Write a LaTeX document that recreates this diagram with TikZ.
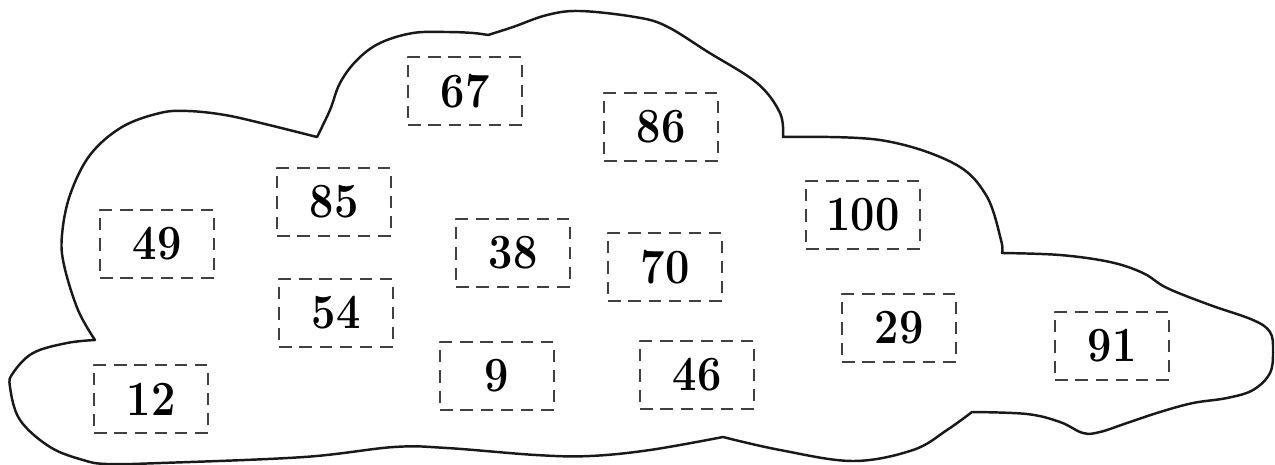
\documentclass[tikz,border=0pt]{standalone}
\usetikzlibrary{positioning}
\begin{document}
\begin{tikzpicture}[x=0.02cm,y=-0.02cm,line join=round,line cap=round,
	cloudline/.style={line width=1.4pt,black!90},
	numbox/.style={draw=black!75,line width=1pt,dash pattern=on 7pt off 4.5pt,line cap=butt,
		minimum width=2.27cm,minimum height=1.36cm,inner sep=0pt,
		font=\fontsize{28}{32}\selectfont\bfseries}]
	\useasboundingbox (0,0) rectangle (1275,464);
	% cloud outline, lobe by lobe
	\draw[cloudline] plot[smooth,tension=.6] coordinates {(95,340) (78,310) (64,265) (62,235) (70,195) (90,155) (122,127) (160,113) (188,111) (225,115) (265,124) (317,137)}
	-- plot[smooth,tension=.6] coordinates {(317,137) (330,110) (340,83) (357,60) (380,43) (413,33) (447,32) (473,33) (488,35)}
	-- plot[smooth,tension=.6] coordinates {(488,35) (513,27) (547,15) (580,11) (635,17) (666,26) (708,52) (757,83) (780,113) (783,137)}
	-- plot[smooth,tension=.6] coordinates {(783,137) (880,140) (953,163) (986,195) (1001,240) (1002,253)}
	-- plot[smooth,tension=.6] coordinates {(1002,253) (1060,255) (1110,262) (1143,273) (1167,288) (1210,305) (1253,320) (1270,332) (1273,350) (1270,373) (1253,390) (1227,398) (1193,403) (1160,412) (1127,423) (1100,432) (1083,433) (1060,422) (1027,414) (972,412)}
	-- plot[smooth,tension=.6] coordinates {(972,412) (947,430) (913,450) (853,461) (780,450) (723,437)}
	-- plot[smooth,tension=.6] coordinates {(723,437) (650,450) (590,456) (536,455) (447,448) (394,447) (304,457) (161,463) (107,464) (83,460) (50,447) (20,420) (10,387) (13,373) (33,353) (67,343) (95,340)};
	% numbers
	\foreach \n/\x/\y in {67/465/91,86/661/127,85/334/202,49/157/244,38/513/253,54/336/313,
		12/151/399,9/497/376,70/665/267,46/697/375,100/863/215,29/899/328,91/1112/346}
	{\node[numbox] (n\n) at (\x,\y) {\scalebox{.88}[1]{\n}};}
\end{tikzpicture}
\end{document}
